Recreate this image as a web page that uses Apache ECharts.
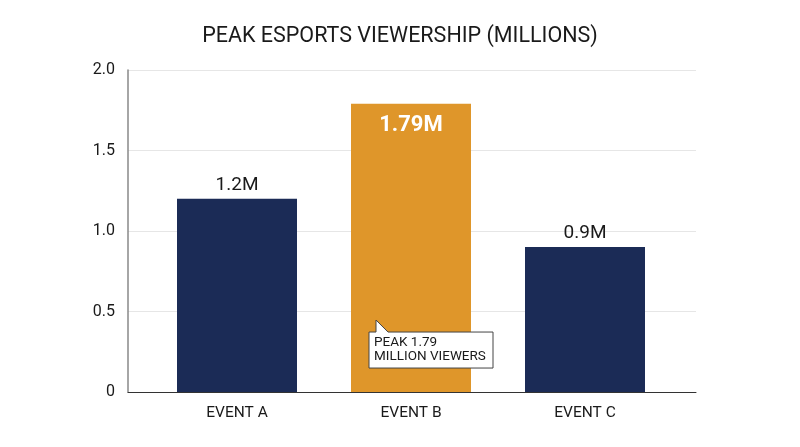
<!DOCTYPE html>
<html>
<head>
<meta charset="utf-8">
<script src="https://cdn.jsdelivr.net/npm/echarts@6/dist/echarts.min.js"></script>
<style>html,body{margin:0;padding:0;background:#fff}#c{width:800px;height:447px}</style>
</head>
<body>
<div id="c"></div>
<script>
const categories = ['EVENT A', 'EVENT B', 'EVENT C'];
const values = [1.2, 1.79, 0.9];
const valueLabels = ['1.2M', '1.79M', '0.9M'];
const highlightIndex = 1;
const yTicks = [0, 0.5, 1.0, 1.5, 2.0];
const annotationText = 'PEAK 1.79\nMILLION VIEWERS';
const annotationValue = 0.447;

const NAVY = '#1b2b56';
const ORANGE = '#df962a';
const FONT = 'Roboto, "Noto Sans", sans-serif';
const yMin = yTicks[0], yMax = yTicks[yTicks.length - 1];

const chart = echarts.init(document.getElementById('c'), null, {renderer: 'canvas'});
const data = values.map((v, i) => {
  const hi = i === highlightIndex;
  return {
    value: v,
    itemStyle: {color: hi ? ORANGE : NAVY},
    label: hi ? {
      show: true, position: 'insideTop', distance: 11,
      color: '#fff', fontSize: 22, fontWeight: 'bold', fontFamily: FONT,
      formatter: valueLabels[i]
    } : {
      show: true, position: 'top', distance: 4,
      color: '#1a1a1a', fontSize: 19, fontFamily: FONT,
      formatter: valueLabels[i]
    }
  };
});

chart.setOption({
  animation: false,
  backgroundColor: '#fff',
  title: {
    text: 'PEAK ESPORTS VIEWERSHIP (MILLIONS)',
    left: 'center', top: 21,
    textStyle: {fontFamily: FONT, fontSize: 21.5, fontWeight: 'normal', color: '#1a1a1a'}
  },
  grid: [
    {left: 128, right: 104, top: 70, bottom: 55},
    {left: 150, right: 128, top: 70, bottom: 55}
  ],
  xAxis: [{
    type: 'category', gridIndex: 0, data: [''],
    axisLine: {lineStyle: {color: '#333', width: 1}},
    axisTick: {show: false}, axisLabel: {show: false}
  }, {
    type: 'category', gridIndex: 1, data: categories,
    axisLine: {show: false},
    axisTick: {show: false},
    axisLabel: {fontFamily: FONT, fontSize: 15.5, color: '#1a1a1a', margin: 13}
  }],
  yAxis: [{
    type: 'value', gridIndex: 0, min: yMin, max: yMax, interval: 0.5,
    axisLine: {show: true, lineStyle: {color: '#888', width: 1.5}},
    axisTick: {show: false},
    splitLine: {lineStyle: {color: '#e6e6e6'}},
    axisLabel: {fontFamily: FONT, fontSize: 16, color: '#1a1a1a', margin: 13,
      formatter: v => (v === 0 ? '0' : v.toFixed(1))}
  }, {
    type: 'value', gridIndex: 1, min: yMin, max: yMax, interval: 0.5,
    axisLine: {show: false}, axisTick: {show: false},
    splitLine: {show: false}, axisLabel: {show: false}
  }],
  series: [{
    type: 'bar', xAxisIndex: 1, yAxisIndex: 1, data: data, barWidth: 120
  }]
});

function placeCallout() {
  const pt = chart.convertToPixel({seriesIndex: 0}, [categories[highlightIndex], annotationValue]);
  const cx = pt[0];
  const tipX = cx - 35, tipY = pt[1];
  const bx = cx - 42, by = tipY + 12, bw = 124, bh = 36;
  chart.setOption({
    graphic: [{
      type: 'group',
      children: [{
        type: 'polygon',
        shape: {points: [[bx, by], [tipX, by], [tipX, tipY], [tipX + 12, by], [bx + bw, by], [bx + bw, by + bh], [bx, by + bh]]},
        style: {fill: '#fff', stroke: '#444', lineWidth: 1},
        z: 100
      }, {
        type: 'text',
        x: bx + 5, y: by + 4,
        style: {text: annotationText, fill: '#1a1a1a', font: '13.5px ' + FONT, lineHeight: 14},
        z: 101
      }]
    }]
  });
}
placeCallout();
</script>
</body>
</html>
